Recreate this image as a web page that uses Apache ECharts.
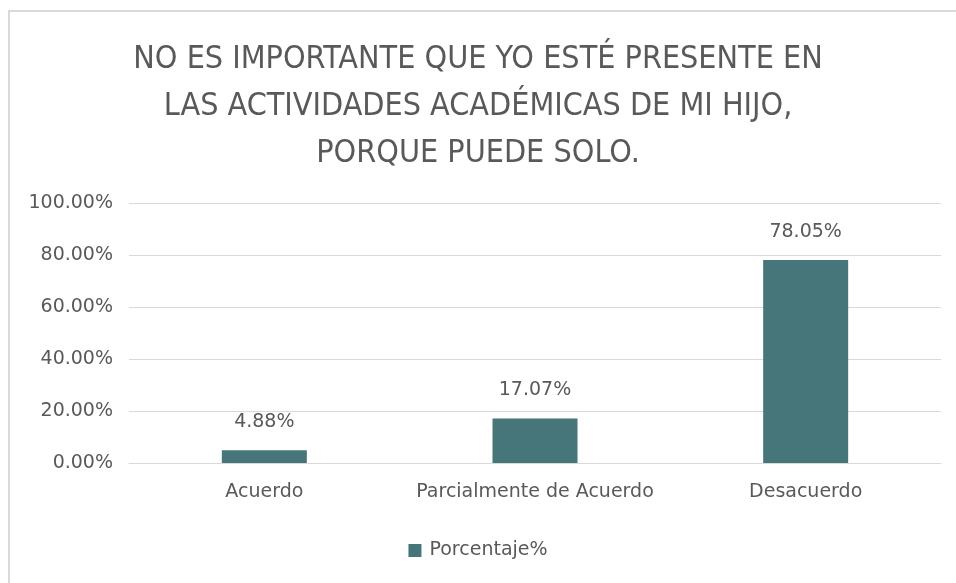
<!DOCTYPE html>
<html>
<head>
<meta charset="utf-8">
<script src="https://cdn.jsdelivr.net/npm/echarts@6/dist/echarts.min.js"></script>
<style>
  html, body { margin: 0; padding: 0; background: #fff; overflow: hidden; }
  #chart { width: 956px; height: 583px; }
  #frame {
    position: absolute; left: 8px; top: 10px; width: 1000px; height: 700px;
    border: 2px solid #d9d9d9; pointer-events: none;
  }
</style>
</head>
<body>
<div id="chart"></div>
<div id="frame"></div>
<script>
const titleText = 'NO ES IMPORTANTE QUE YO ESTÉ PRESENTE EN\nLAS ACTIVIDADES ACADÉMICAS DE MI HIJO,\nPORQUE PUEDE SOLO.'
const categories = ['Acuerdo', 'Parcialmente de Acuerdo', 'Desacuerdo']
const seriesName = 'Porcentaje%'
const values = [0.0488, 0.1707, 0.7805]

const pct = v => (v * 100).toFixed(2) + '%'
const textColor = '#595959'
const font = 'DejaVu Sans'

const chart = echarts.init(document.getElementById('chart'))
chart.setOption({
  animation: false,
  title: {
    text: titleText,
    left: 'center',
    top: 31,
    textStyle: {
      fontFamily: '"Liberation Sans Narrow", "DejaVu Sans Condensed", "Roboto Condensed", "Liberation Sans", sans-serif',
      fontWeight: 'normal',
      fontSize: 32,
      lineHeight: 47,
      color: textColor,
    },
  },
  legend: {
    bottom: 18,
    left: 'center',
    icon: 'rect',
    itemWidth: 13,
    itemHeight: 13,
    itemGap: 8,
    textStyle: { fontFamily: font, fontSize: 19, color: textColor, padding: [0, 0, 0, 3] },
    data: [seriesName],
  },
  grid: { left: 129, right: 15, top: 203, bottom: 120, containLabel: false },
  xAxis: {
    type: 'category',
    data: categories,
    axisLine: { show: true, lineStyle: { color: '#d9d9d9' } },
    axisTick: { show: false },
    axisLabel: { interval: 0, fontFamily: font, fontSize: 19, color: textColor, margin: 20 },
  },
  yAxis: {
    type: 'value',
    min: 0,
    max: 1,
    interval: 0.2,
    axisLine: { show: false },
    axisTick: { show: false },
    splitLine: { lineStyle: { color: '#d9d9d9', width: 1 } },
    axisLabel: {
      fontFamily: font,
      fontSize: 19,
      color: textColor,
      margin: 16,
      formatter: v => pct(v),
    },
  },
  series: [
    {
      name: seriesName,
      type: 'bar',
      data: values,
      barWidth: 85,
      itemStyle: { color: '#46767a' },
      label: {
        show: true,
        position: 'top',
        distance: 19,
        fontFamily: font,
        fontSize: 19,
        color: textColor,
        formatter: p => pct(p.value),
      },
    },
  ],
})

window.addEventListener('resize', () => {
  chart.resize()
})
</script>
</body>
</html>
